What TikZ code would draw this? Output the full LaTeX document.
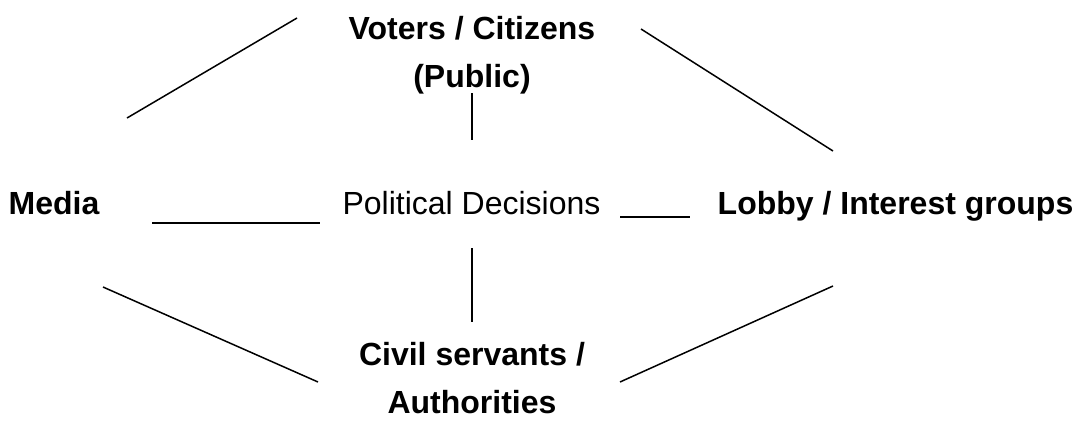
\documentclass[tikz,border=0pt]{standalone}
\usepackage{fontspec}
\setmainfont{Liberation Sans}
\begin{document}
\begin{tikzpicture}[x=1pt,y=-1pt,
  lbl/.style={inner sep=0pt,anchor=base,align=center,font=\fontsize{32}{47.5}\selectfont},
  key/.style={lbl,font=\fontsize{32}{47.5}\selectfont\bfseries},
  link/.style={line width=1.5pt,line cap=butt}]
\useasboundingbox (0,0) rectangle (1085,437);
\node[key] (voters) at (472,87) {Voters / Citizens\\(Public)};
\node[key] (media) at (54,214) {Media};
\node[lbl] (pd) at (471.5,214) {Political Decisions};
\node[key] (lobby) at (895.5,214) {Lobby / Interest groups};
\node[key] (civil) at (472,413) {Civil servants /\\Authorities};
\coordinate (a1) at (127,118); \coordinate (a2) at (297,18);
\coordinate (b1) at (641,29); \coordinate (b2) at (833,151);
\coordinate (c1) at (472,93); \coordinate (c2) at (472,140);
\coordinate (d1) at (152,223); \coordinate (d2) at (320,223);
\coordinate (e1) at (620,217); \coordinate (e2) at (690,217);
\coordinate (f1) at (472,248); \coordinate (f2) at (472,322);
\coordinate (g1) at (103,287); \coordinate (g2) at (318,382);
\coordinate (h1) at (620,382); \coordinate (h2) at (833,286);
\draw[link] (a1) -- (a2);
\draw[link] (b1) -- (b2);
\draw[link] (c1) -- (c2);
\draw[link] (d1) -- (d2);
\draw[link] (e1) -- (e2);
\draw[link] (f1) -- (f2);
\draw[link] (g1) -- (g2);
\draw[link] (h1) -- (h2);
\end{tikzpicture}
\end{document}
